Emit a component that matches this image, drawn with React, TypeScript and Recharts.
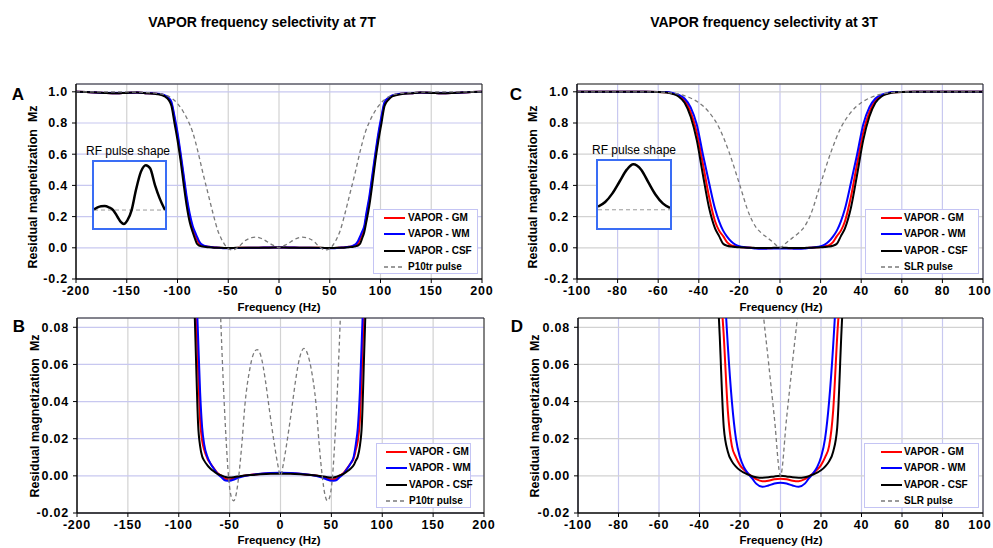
import React from 'react';
import { LineChart, Line, XAxis, YAxis, CartesianGrid, ReferenceArea, ReferenceLine } from 'recharts';

const FONT = '"Liberation Sans", Arial, sans-serif';

// ---- 7T (panels A, B) ----
const freq7T = [
  -200, -190, -180, -170, -160, -150, -140, -130, -120, -115, -112, -109, -106, -103, -100, -97, -94, -91, -88,
  -85, -83, -81, -79, -77, -75, -72, -69, -66, -62, -58, -54, -50, -45, -40, -30, -20, -10, 0,
  10, 20, 30, 40, 45, 50, 54, 58, 62, 66, 69, 72, 74, 76, 78, 80, 82, 84, 86, 89, 92, 95, 98, 101, 104, 108,
  111, 115, 120, 130, 140, 150, 160, 170, 180, 190, 200,
];
const gm7T = [
  1.0, 0.999, 0.996, 0.992, 0.99, 0.993, 0.995, 0.991, 0.987, 0.981, 0.973, 0.958, 0.925, 0.83, 0.72, 0.59, 0.45, 0.31, 0.2,
  0.125, 0.09, 0.058, 0.03, 0.019, 0.014, 0.0095, 0.0068, 0.0045, 0.0015, 0.0, -0.0017, -0.0019, -0.0012, -0.0004, 0.0005, 0.001, 0.0014, 0.0015,
  0.0014, 0.001, 0.0005, -0.0004, -0.0012, -0.0019, -0.0017, 0.0, 0.0015, 0.0045, 0.0068, 0.0095, 0.014, 0.019, 0.03, 0.058, 0.09, 0.125, 0.2,
  0.31, 0.45, 0.59, 0.72, 0.83, 0.925, 0.958, 0.973, 0.981, 0.987, 0.991, 0.995, 0.993, 0.99, 0.992, 0.996, 0.999, 1.0,
];
const wm7T = [
  1.0, 0.999, 0.996, 0.992, 0.99, 0.993, 0.995, 0.991, 0.988, 0.983, 0.976, 0.963, 0.935, 0.845, 0.74, 0.61, 0.47, 0.33, 0.22,
  0.14, 0.105, 0.075, 0.045, 0.026, 0.017, 0.0105, 0.0068, 0.0042, 0.0012, -0.0008, -0.0025, -0.0026, -0.0018, -0.0008, 0.0005, 0.0011, 0.0015, 0.0017,
  0.0015, 0.0011, 0.0005, -0.0008, -0.0018, -0.0026, -0.0025, -0.0008, 0.0012, 0.0042, 0.0068, 0.0105, 0.017, 0.026, 0.045, 0.075, 0.105, 0.14, 0.22,
  0.33, 0.47, 0.61, 0.74, 0.845, 0.935, 0.963, 0.976, 0.983, 0.988, 0.991, 0.995, 0.993, 0.99, 0.992, 0.996, 0.999, 1.0,
];
const csf7T = [
  1.0, 0.999, 0.996, 0.992, 0.99, 0.993, 0.995, 0.99, 0.985, 0.978, 0.968, 0.95, 0.91, 0.8, 0.69, 0.56, 0.41, 0.27, 0.165,
  0.1, 0.062, 0.028, 0.016, 0.0105, 0.0082, 0.0058, 0.004, 0.0026, 0.0011, 0.0002, -0.0006, -0.0009, -0.0006, -0.0002, 0.0004, 0.0008, 0.0011, 0.0012,
  0.0011, 0.0008, 0.0004, -0.0002, -0.0006, -0.0009, -0.0006, 0.0002, 0.0011, 0.0026, 0.004, 0.0058, 0.0082, 0.0105, 0.016, 0.028, 0.062, 0.1, 0.165,
  0.27, 0.41, 0.56, 0.69, 0.8, 0.91, 0.95, 0.968, 0.978, 0.985, 0.99, 0.995, 0.993, 0.99, 0.992, 0.996, 0.999, 1.0,
];
const pulseFreq7T = [
  -200, -180, -160, -140, -130, -120, -115, -110, -105, -100, -95, -90, -85, -80, -75, -70, -65, -60, -57, -54, -51,
  -48, -46, -44, -41, -38, -35, -30, -27, -23, -19, -15, -12, -9, -6, -3, 0,
  3, 6, 9, 12, 15, 19, 23, 27, 30, 35, 38, 41, 44, 46, 48, 51, 54, 57, 60, 65, 70, 75, 80, 85, 90, 95, 100,
  105, 110, 115, 120, 130, 140, 160, 180, 200,
];
const p10tr = [
  1.0, 1.0, 1.0, 0.998, 0.995, 0.99, 0.985, 0.975, 0.955, 0.925, 0.88, 0.82, 0.74, 0.62, 0.48, 0.35, 0.22, 0.105, 0.06, 0.025, -0.001,
  -0.012, -0.0134, -0.011, 0.0, 0.017, 0.038, 0.058, 0.065, 0.068, 0.064, 0.052, 0.04, 0.028, 0.017, 0.007, 0.0,
  0.007, 0.017, 0.028, 0.04, 0.052, 0.064, 0.0686, 0.065, 0.058, 0.038, 0.017, 0.0, -0.011, -0.0134, -0.012, -0.001, 0.025, 0.06, 0.105, 0.22, 0.35, 0.48, 0.62, 0.74, 0.82, 0.88, 0.925,
  0.955, 0.975, 0.985, 0.99, 0.995, 0.998, 1.0, 1.0, 1.0,
];

// ---- 3T (panels C, D) ----
const freq3T = [
  -100, -90, -80, -70, -60, -56, -53, -50, -47, -44, -41, -38, -35, -32, -30, -28, -26, -24, -22, -20, -18, -16, -14, -12, -9, -6, -3, 0,
  3, 6, 9, 12, 14, 16, 18, 20, 22, 24, 26, 28, 30, 32, 35, 38, 41, 44, 47, 50, 53, 56, 60, 70, 80, 90, 100,
];
const gm3T = [
  1.0, 1.0, 1.0, 1.0, 0.999, 0.997, 0.99, 0.975, 0.945, 0.87, 0.74, 0.54, 0.33, 0.17, 0.11, 0.075, 0.035, 0.016, 0.01, 0.0058, 0.0032, 0.0012, -0.0004, -0.0018, -0.0029, -0.0026, -0.0018, -0.0015,
  -0.0018, -0.0026, -0.0029, -0.0018, -0.0004, 0.0012, 0.0032, 0.0058, 0.01, 0.016, 0.035, 0.075, 0.11, 0.17, 0.33, 0.54, 0.74, 0.87, 0.945, 0.975, 0.99, 0.997, 0.999, 1.0, 1.0, 1.0, 1.0,
];
const wm3T = [
  1.0, 1.0, 1.0, 1.0, 0.999, 0.998, 0.993, 0.981, 0.957, 0.9, 0.79, 0.6, 0.42, 0.25, 0.17, 0.11, 0.07, 0.04, 0.02, 0.01, 0.0045, 0.0012, -0.0014, -0.0042, -0.0059, -0.0052, -0.0041, -0.0037,
  -0.0041, -0.0052, -0.0059, -0.0042, -0.0014, 0.0012, 0.0045, 0.01, 0.02, 0.04, 0.07, 0.11, 0.17, 0.25, 0.42, 0.6, 0.79, 0.9, 0.957, 0.981, 0.993, 0.998, 0.999, 1.0, 1.0, 1.0, 1.0,
];
const csf3T = [
  1.0, 1.0, 1.0, 1.0, 0.999, 0.996, 0.987, 0.97, 0.93, 0.84, 0.69, 0.47, 0.26, 0.125, 0.075, 0.026, 0.013, 0.0078, 0.005, 0.003, 0.0017, 0.0007, -0.0002, -0.0007, -0.001, -0.0008, -0.0003, 0.0,
  -0.0003, -0.0008, -0.001, -0.0007, -0.0002, 0.0007, 0.0017, 0.003, 0.005, 0.0078, 0.013, 0.026, 0.075, 0.125, 0.26, 0.47, 0.69, 0.84, 0.93, 0.97, 0.987, 0.996, 0.999, 1.0, 1.0, 1.0, 1.0,
];
const pulseFreq3T = [
  -100, -90, -80, -70, -60, -55, -50, -45, -40, -35, -30, -25, -20, -15, -12, -9, -6, -3, 0,
  3, 6, 9, 12, 15, 20, 25, 30, 35, 40, 45, 50, 55, 60, 70, 80, 90, 100,
];
const slr = [
  1.0, 1.0, 1.0, 1.0, 0.999, 0.995, 0.985, 0.965, 0.93, 0.87, 0.77, 0.61, 0.41, 0.21, 0.135, 0.093, 0.062, 0.031, 0.0,
  0.031, 0.062, 0.093, 0.135, 0.21, 0.41, 0.61, 0.77, 0.87, 0.93, 0.965, 0.985, 0.995, 0.999, 1.0, 1.0, 1.0, 1.0,
];

// ---- RF pulse shape insets ----
const pulseTime7T = [0, 0.05, 0.1, 0.15, 0.21, 0.27, 0.33, 0.38, 0.42, 0.47, 0.53, 0.59, 0.66, 0.73, 0.79, 0.86, 0.925, 1];
const pulseAmp7T = [0.015, 0.06, 0.085, 0.09, 0.06, 0.0, -0.15, -0.27, -0.31, -0.23, 0.0, 0.44, 0.85, 1.0, 0.93, 0.55, 0.26, 0.0];
const pulseTime3T = [0, 0.1, 0.2, 0.3, 0.4, 0.49, 0.6, 0.7, 0.8, 0.9, 1];
const pulseAmp3T = [0.07, 0.17, 0.36, 0.62, 0.88, 1.0, 0.88, 0.6, 0.33, 0.14, 0.04];

// ---- axes / labels ----
const ticks7T = [-200, -150, -100, -50, 0, 50, 100, 150, 200];
const ticks3T = [-100, -80, -60, -40, -20, 0, 20, 40, 60, 80, 100];
const ticksFull = [-0.2, 0, 0.2, 0.4, 0.6, 0.8, 1.0];
const ticksZoom = [-0.02, 0, 0.02, 0.04, 0.06, 0.08];
const legend7T = ['VAPOR - GM', 'VAPOR - WM', 'VAPOR - CSF', 'P10tr pulse'];
const legend3T = ['VAPOR - GM', 'VAPOR - WM', 'VAPOR - CSF', 'SLR pulse'];

const rows = (xs: number[], ys: number[]) => xs.map((f, i) => ({ f, v: ys[i] }));

const COLORS = ['#ff0000', '#0000ff', '#000000'];
const LAV = '#c8c8f0';
const GRAY = '#d2d2d2';

const series7T = [
  { rows: rows(freq7T, gm7T), color: COLORS[0] },
  { rows: rows(freq7T, wm7T), color: COLORS[1] },
  { rows: rows(freq7T, csf7T), color: COLORS[2] },
];
const series3T = [
  { rows: rows(freq3T, gm3T), color: COLORS[0] },
  { rows: rows(freq3T, wm3T), color: COLORS[1] },
  { rows: rows(freq3T, csf3T), color: COLORS[2] },
];

const tickStyle = { fontSize: 12.5, fontWeight: 'bold', fill: '#000', fontFamily: FONT, letterSpacing: 0.8 };

// x tick that keeps the last label inside the page edge
const makeXTick = (lastValue: number, lastShift: number) => (p: any) => {
  const shift = p.payload.value === lastValue ? lastShift : 0;
  return (
    <text x={p.x + shift} y={p.y} dy="0.71em" textAnchor="middle" {...tickStyle}>
      {p.payload.value}
    </text>
  );
};

function Panel(props: any) {
  const { left, top, width, height, margin, xDomain, xTicks, yDomain, yTicks, digits, series, pulse, vGrid, hGrid, lastShift } = props;
  return (
    <div style={{ position: 'absolute', left, top }}>
      <LineChart width={width} height={height} margin={margin}>
        <CartesianGrid horizontal={false} stroke={vGrid} strokeWidth={1.2} />
        <CartesianGrid vertical={false} stroke={hGrid} strokeWidth={1.2} />
        <XAxis
          type="number" dataKey="f" domain={xDomain} ticks={xTicks} interval={0} allowDataOverflow
          tick={makeXTick(xDomain[1], lastShift)} tickSize={4} tickMargin={3} height={30}
          axisLine={{ stroke: '#000' }} tickLine={{ stroke: '#000' }}
        />
        <YAxis
          type="number" dataKey="v" domain={yDomain} ticks={yTicks} interval={0} allowDataOverflow
          tick={tickStyle} tickSize={4} tickMargin={4} width={40}
          tickFormatter={(v: number) => v.toFixed(digits)}
          axisLine={{ stroke: '#000' }} tickLine={{ stroke: '#000' }}
        />
        <ReferenceArea x1={xDomain[0]} x2={xDomain[1]} y1={yDomain[0]} y2={yDomain[1]} fill="none" stroke="#222" strokeWidth={1} />
        {series.map((s: any, i: number) => (
          <Line key={i} data={s.rows} dataKey="v" type="monotone" stroke={s.color} strokeWidth={2}
            dot={false} activeDot={false} isAnimationActive={false} />
        ))}
        <Line data={pulse} dataKey="v" type="monotone" stroke="#7a7a7a" strokeWidth={1.3} strokeDasharray="4 3"
          dot={false} activeDot={false} isAnimationActive={false} />
      </LineChart>
    </div>
  );
}

function LegendBox({ left, top, width, labels, lineX, textX }: any) {
  return (
    <div style={{
      position: 'absolute', left, top, width, height: 65, boxSizing: 'border-box',
      background: '#fff', border: '1px solid #c4c4f4', fontFamily: FONT,
    }}>
      {labels.map((lab: string, i: number) => (
        <div key={lab} style={{ position: 'absolute', left: 0, top: 8 + i * 16.4 - 7, height: 14, width: '100%' }}>
          <svg style={{ position: 'absolute', left: lineX, top: 0 }} width={21} height={14}>
            <line x1={0} x2={21} y1={7} y2={7}
              stroke={i < 3 ? COLORS[i] : '#7a7a7a'} strokeWidth={i < 3 ? 2 : 1.3}
              strokeDasharray={i < 3 ? undefined : '4 3'} />
          </svg>
          <span style={{ position: 'absolute', left: textX, top: 0, lineHeight: '14px', fontSize: 10, fontWeight: 'bold', whiteSpace: 'nowrap' }}>{lab}</span>
        </div>
      ))}
    </div>
  );
}

function Inset({ left, top, width, height, time, amp, textX }: any) {
  return (
    <>
      <div style={{ position: 'absolute', left: textX - 50, top: top - 16, width: 100, textAlign: 'center', fontFamily: FONT, fontSize: 12, whiteSpace: 'nowrap' }}>
        RF pulse shape
      </div>
      <div style={{ position: 'absolute', left, top, width, height, boxSizing: 'border-box', border: '2px solid #3a6df5', background: '#fff' }}>
        <LineChart width={width - 4} height={height - 4} margin={{ top: 0, right: 0, bottom: 0, left: 0 }} data={rows(time, amp)}>
          <XAxis type="number" dataKey="f" domain={[0, 1]} hide />
          <YAxis type="number" domain={[-0.4, 1.07]} hide />
          <ReferenceLine y={0} stroke="#9a9a9a" strokeDasharray="4 3" strokeWidth={1} />
          <Line dataKey="v" type="monotone" stroke="#000" strokeWidth={2.5} dot={false} activeDot={false} isAnimationActive={false} />
        </LineChart>
      </div>
    </>
  );
}

const abs = (left: number, top: number, extra: any = {}) => ({ position: 'absolute' as const, left, top, fontFamily: FONT, fontWeight: 'bold' as const, whiteSpace: 'nowrap' as const, ...extra });

function YTitle({ x, y }: { x: number; y: number }) {
  return (
    <div style={abs(x, y, { fontSize: 12.5, transform: 'translate(-50%, -50%) rotate(-90deg)', whiteSpace: 'pre' })}>
      {'Residual magnetization  Mz'}
    </div>
  );
}

function XTitle({ x, y }: { x: number; y: number }) {
  return <div style={abs(x, y, { fontSize: 11.5, transform: 'translate(-50%, -50%)' })}>Frequency (Hz)</div>;
}

export default function App() {
  return (
    <div style={{ position: 'absolute', left: 0, top: 0, width: 993, height: 548, background: '#fff', overflow: 'hidden' }}>
      <div style={abs(262, 22, { fontSize: 14, transform: 'translate(-50%, -50%)' })}>VAPOR frequency selectivity at 7T</div>
      <div style={abs(764, 22, { fontSize: 14, transform: 'translate(-50%, -50%)' })}>VAPOR frequency selectivity at 3T</div>

      <Panel left={0} top={80} width={510} height={230} margin={{ top: 4, right: 28, bottom: 1, left: 36 }}
        xDomain={[-200, 200]} xTicks={ticks7T} yDomain={[-0.2, 1.05]} yTicks={ticksFull} digits={1} lastShift={0}
        series={series7T} pulse={rows(pulseFreq7T, p10tr)} vGrid={GRAY} hGrid={LAV} />
      <Panel left={0} top={310} width={510} height={235} margin={{ top: 8, right: 26, bottom: 2, left: 37 }}
        xDomain={[-200, 200]} xTicks={ticks7T} yDomain={[-0.02, 0.085]} yTicks={ticksZoom} digits={2} lastShift={0}
        series={series7T} pulse={rows(pulseFreq7T, p10tr)} vGrid={GRAY} hGrid={LAV} />
      <Panel left={490} top={80} width={503} height={230} margin={{ top: 4, right: 10, bottom: 1, left: 47 }}
        xDomain={[-100, 100]} xTicks={ticks3T} yDomain={[-0.2, 1.05]} yTicks={ticksFull} digits={1} lastShift={-3}
        series={series3T} pulse={rows(pulseFreq3T, slr)} vGrid={LAV} hGrid={GRAY} />
      <Panel left={490} top={310} width={503} height={235} margin={{ top: 8, right: 10, bottom: 2, left: 48 }}
        xDomain={[-100, 100]} xTicks={ticks3T} yDomain={[-0.02, 0.085]} yTicks={ticksZoom} digits={2} lastShift={-3}
        series={series3T} pulse={rows(pulseFreq3T, slr)} vGrid={LAV} hGrid={GRAY} />

      <LegendBox left={373} top={209} width={105} labels={legend7T} lineX={10} textX={34} />
      <LegendBox left={376} top={443} width={95} labels={legend7T} lineX={9} textX={32} />
      <LegendBox left={865} top={209} width={114} labels={legend3T} lineX={15} textX={38} />
      <LegendBox left={864} top={443} width={115} labels={legend3T} lineX={16} textX={39} />

      <Inset left={92} top={160} width={75} height={70} time={pulseTime7T} amp={pulseAmp7T} textX={128} />
      <Inset left={596} top={159} width={76} height={71} time={pulseTime3T} amp={pulseAmp3T} textX={634} />

      <YTitle x={33} y={187} />
      <YTitle x={35} y={416} />
      <YTitle x={533} y={187} />
      <YTitle x={535} y={416} />
      <XTitle x={279} y={307} />
      <XTitle x={279} y={540} />
      <XTitle x={781} y={307} />
      <XTitle x={781} y={540} />

      <div style={abs(18, 95, { fontSize: 17, transform: 'translate(-50%, -50%)' })}>A</div>
      <div style={abs(19, 327, { fontSize: 17, transform: 'translate(-50%, -50%)' })}>B</div>
      <div style={abs(516, 95, { fontSize: 17, transform: 'translate(-50%, -50%)' })}>C</div>
      <div style={abs(517, 327, { fontSize: 17, transform: 'translate(-50%, -50%)' })}>D</div>
    </div>
  );
}
